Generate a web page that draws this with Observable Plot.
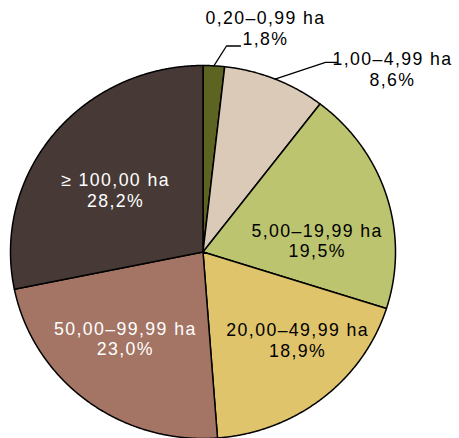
<!DOCTYPE html>
<html>
<head>
<meta charset="utf-8">
<script src="https://cdn.jsdelivr.net/npm/d3@7"></script>
<script src="https://cdn.jsdelivr.net/npm/@observablehq/plot@0.6"></script>
<style>
  html, body { margin: 0; padding: 0; background: #fff; }
  #chart svg text { letter-spacing: 1.4px; }
</style>
</head>
<body>
<div id="chart"></div>
<script>
// ---- data ----
const categories = ["0,20–0,99 ha", "1,00–4,99 ha", "5,00–19,99 ha", "20,00–49,99 ha", "50,00–99,99 ha", "≥ 100,00 ha"];
const shares = [1.8, 8.6, 19.5, 18.9, 23.0, 28.2];
const colors = ["#5d6421", "#dccab8", "#bcc46f", "#dfc46c", "#a47565", "#473a36"];
const textColors = ["#000", "#000", "#000", "#000", "#fff", "#fff"];

// ---- layout (pixels) ----
const W = 459, H = 438;
const pieLeft = 10, pieRight = 395, pieTop = 65, pieBottom = 438;
const rx = (pieRight - pieLeft) / 2, ry = (pieBottom - pieTop) / 2;
// label nudges in px relative to anchor (inner: centroid at 0.6r, outer: arc midpoint)
const labelMode = ["outer", "outer", "inner", "inner", "inner", "inner"];
const labelNudge = [[51.6, -37.8], [117.5, -10], [4, 22], [23, 0], [-8, -3], [2, 9]];
const leaderElbow = [[12.6, -19.8], [50.5, -16.6], null, null, null, null];
const leaderEnd = [[26.6, -19.8], [62.5, -16.6], null, null, null, null];

const rows = categories.map((c, i) => ({cat: c, share: shares[i], i}));
const arcs = d3.pie().sort(null).value(d => d.share).startAngle(0).endAngle(2 * Math.PI)(rows);

const fmt = v => v.toFixed(1).replace(".", ",") + "%";

// slice polygons in unit coordinates (y up)
const poly = [];
arcs.forEach(a => {
  const cat = a.data.cat;
  poly.push({cat, x: 0, y: 0});
  const n = Math.max(4, Math.ceil((a.endAngle - a.startAngle) / 0.005));
  for (let k = 0; k <= n; k++) {
    const t = a.startAngle + (a.endAngle - a.startAngle) * k / n;
    poly.push({cat, x: Math.sin(t), y: Math.cos(t)});
  }
  poly.push({cat, x: 0, y: 0});
});

const textMarks = [];
const leaders = [];
arcs.forEach((a, i) => {
  const mid = (a.startAngle + a.endAngle) / 2;
  const r = labelMode[i] === "inner" ? 0.6 : 1;
  const ax = r * Math.sin(mid), ay = r * Math.cos(mid);
  textMarks.push(Plot.text([a.data], {
    x: () => ax, y: () => ay,
    text: d => d.cat + "\n" + fmt(d.share),
    dx: labelNudge[i][0], dy: labelNudge[i][1],
    fill: textColors[i],
    fontSize: 17.7, lineHeight: 1.17, lineAnchor: "middle", textAnchor: "middle",
    fontFamily: "Liberation Sans, Arial, sans-serif"
  }));
  if (leaderElbow[i]) {
    leaders.push({cat: a.data.cat, x: ax, y: ay});
    leaders.push({cat: a.data.cat, x: ax + leaderElbow[i][0] / rx, y: ay - leaderElbow[i][1] / ry});
    leaders.push({cat: a.data.cat, x: ax + leaderEnd[i][0] / rx, y: ay - leaderEnd[i][1] / ry});
  }
});

const chart = Plot.plot({
  width: W, height: H, margin: 0,
  x: {domain: [-1, 1], range: [pieLeft, pieRight], axis: null},
  y: {domain: [-1, 1], range: [pieBottom, pieTop], axis: null},
  color: {domain: categories, range: colors},
  style: {background: "#fff", overflow: "hidden"},
  marks: [
    Plot.line(poly, {x: "x", y: "y", z: "cat", fill: "cat", stroke: "#000", strokeWidth: 1.5, strokeLinejoin: "round"}),
    Plot.line(leaders, {x: "x", y: "y", z: "cat", stroke: "#000", strokeWidth: 1.3}),
    ...textMarks
  ]
});
document.getElementById("chart").appendChild(chart);
</script>
</body>
</html>
